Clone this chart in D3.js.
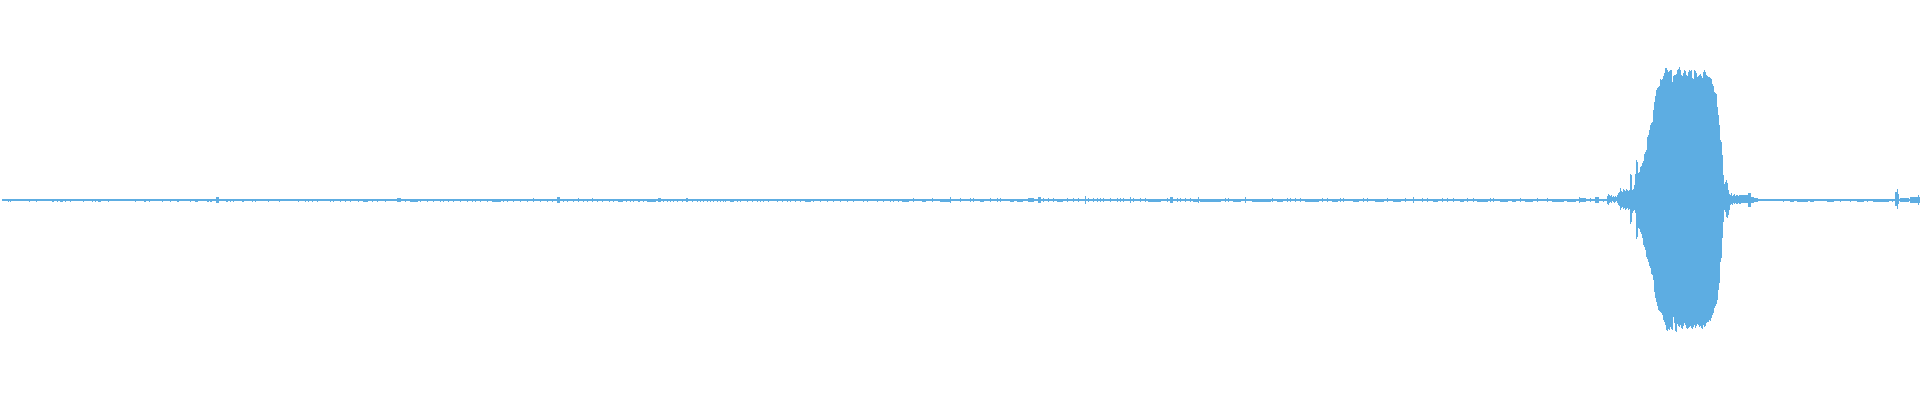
<!DOCTYPE html>
<html><head><meta charset="utf-8">
<script src="https://cdn.jsdelivr.net/npm/d3@7"></script>
<style>html,body{margin:0;padding:0;background:#fff;overflow:hidden}</style>
</head><body>
<svg id="chart" width="1920" height="400"></svg>
<script>
// ---- data (normalized amplitude, -1..1; one entry per display column) ----
const totalColumns = 1920;
const firstColumn = 2;
const baseLevel = 0.005;

// noise level table: [upper, lower] amplitude
const levelHi = [0.005, 0.005, 0.01, 0.015, 0.02];
const levelLo = [0.005, 0.01, 0.01, 0.015, 0.02];

// quiet-part ripples: [fromColumn, toColumn, level]
const noiseRanges = [
[8,8,1],[10,10,1],[29,29,1],[36,36,1],[52,53,1],[57,57,1],[60,62,1],[65,65,1],[70,70,1],[83,83,1],[92,92,1],[95,95,1],[98,100,1],[108,108,1],[135,135,1],[144,145,1],[149,149,1],[162,162,1],[170,170,1],[177,178,1],[190,190,1],[195,197,1],[207,208,1],[210,211,1],[216,218,3],[226,227,1],[230,230,1],[233,233,1],[242,243,1],[252,252,1],[255,255,1],[268,268,1],[279,279,1],[298,298,1],
[305,305,1],[308,308,1],[312,312,1],[317,317,1],[330,330,1],[333,333,1],[340,340,1],[345,345,1],[350,350,1],[358,358,1],[363,367,1],[372,372,1],[377,377,1],[385,385,1],[397,400,2],[405,405,1],[410,417,1],[420,420,1],[427,427,1],[433,433,1],[440,440,1],[443,443,1],[448,448,1],[453,453,1],[460,460,1],[467,467,1],[472,472,1],[475,475,1],[480,480,1],[487,487,1],[492,500,1],[503,503,1],[507,507,1],[513,513,1],[520,520,1],[527,527,1],[533,533,2],[540,540,1],[547,547,1],[552,552,1],[557,559,3],[563,563,1],[567,567,1],[573,573,1],[578,578,2],[583,583,1],[587,587,1],[592,592,2],[597,597,1],
[602,602,1],[609,609,1],[613,613,1],[618,622,1],[626,626,1],[630,630,1],[633,633,1],[638,639,1],[643,643,1],[647,655,1],[658,660,2],[663,663,1],[667,667,1],[670,670,1],[673,673,1],[677,677,1],[682,682,1],[686,687,2],[692,692,1],[697,697,1],[700,700,1],[703,703,1],[707,707,1],[710,710,1],[713,713,1],[717,717,1],[720,720,1],[723,723,1],[725,725,1],[730,733,1],[737,737,1],[740,740,1],[747,747,1],[752,752,1],[757,757,1],[760,760,1],[763,763,1],[768,768,1],[777,777,1],[782,782,1],[787,787,1],[790,790,1],[795,795,1],[800,800,1],[805,810,1],[813,813,1],[820,820,1],[827,827,1],[833,833,1],[840,840,1],[847,847,1],[853,853,1],[863,863,1],[867,867,1],[877,877,1],[883,883,1],[890,890,1],[893,893,1],[898,898,1],
[902,908,1],[913,913,2],[922,925,1],[932,932,2],[940,949,1],[950,950,3],[960,960,2],[970,970,2],[973,973,2],[980,983,1],[990,990,2],[997,997,2],[1000,1000,2],[1010,1013,1],[1017,1022,1],[1028,1033,2],[1038,1040,3],[1043,1043,2],[1048,1048,2],[1053,1053,2],[1057,1062,1],[1067,1067,2],[1073,1073,2],[1078,1078,2],[1085,1085,4],[1088,1088,2],[1093,1093,2],[1097,1097,2],[1100,1100,2],[1103,1103,2],[1110,1110,2],[1117,1117,2],[1120,1120,2],[1123,1123,2],[1130,1130,3],[1133,1133,2],[1140,1140,2],[1145,1145,2],[1148,1160,1],[1167,1167,2],[1170,1172,3],[1177,1177,2],[1180,1180,2],[1185,1185,2],[1190,1190,2],[1193,1197,1],[1198,1198,3],
[1200,1220,1],[1225,1225,2],[1228,1228,2],[1233,1240,1],[1245,1245,3],[1252,1270,1],[1272,1272,2],[1277,1282,1],[1287,1287,2],[1290,1290,2],[1295,1295,2],[1300,1300,2],[1305,1318,1],[1322,1322,2],[1327,1327,2],[1332,1337,1],[1340,1340,2],[1343,1343,2],[1353,1358,1],[1363,1363,2],[1367,1367,2],[1375,1383,1],[1387,1387,2],[1393,1400,1],[1405,1405,2],[1413,1413,3],[1422,1422,2],[1427,1427,2],[1433,1437,1],[1442,1442,2],[1447,1447,2],[1453,1453,2],[1460,1463,1],[1467,1467,2],[1473,1473,2],[1477,1487,1],[1490,1490,2],[1493,1493,2],[1500,1507,1],[1512,1515,1],[1520,1520,2],[1525,1532,1],[1537,1537,2],[1547,1547,2],[1552,1563,1],[1567,1575,1],[1579,1579,3],[1580,1585,2],[1590,1590,2],[1595,1598,3],[1603,1603,1],
[1783,1783,1],[1790,1793,1],[1797,1807,1],[1810,1813,1],[1827,1833,1],[1840,1840,1],[1850,1850,1],[1857,1863,1],[1867,1867,1],[1873,1887,1],[1888,1888,1],[1892,1892,1]
];

// explicit events after the burst: [from, to, upper, lower]
const eventRanges = [
[1741,1747,0.025,0.015],[1748,1750,0.035,0.035],[1751,1753,0.015,0.015],[1754,1757,0.01,0.01],
[1895,1896,0.04,0.03],[1897,1897,0.055,0.045],[1898,1898,0.03,0.02],[1900,1908,0.01,0.01],
[1910,1917,0.015,0.015],[1918,1918,0.025,0.025],[1919,1919,0.015,0.015]
];

// main burst, columns 1607..1740
const burstStart = 1607;
const burstHi = [
0.020,0.030,0.025,0.020,0.025,0.015,0.020,0.015,0.020,0.015,0.025,0.035,0.040,0.060,0.045,0.040,0.055,0.050,0.045,0.055,
0.050,0.045,0.050,0.130,0.125,0.050,0.055,0.075,0.130,0.200,0.190,0.135,0.140,0.165,0.170,0.185,0.195,0.230,0.240,0.250,
0.315,0.325,0.350,0.375,0.385,0.390,0.450,0.490,0.520,0.550,0.560,0.565,0.570,0.605,0.600,0.605,0.620,0.635,0.660,0.660,
0.650,0.640,0.645,0.650,0.650,0.590,0.620,0.625,0.625,0.630,0.650,0.655,0.665,0.650,0.625,0.620,0.635,0.650,0.645,0.625,
0.620,0.640,0.650,0.645,0.650,0.610,0.605,0.650,0.645,0.635,0.615,0.620,0.625,0.630,0.620,0.610,0.640,0.650,0.640,0.625,
0.620,0.615,0.615,0.610,0.605,0.580,0.570,0.540,0.535,0.530,0.465,0.425,0.375,0.300,0.290,0.225,0.125,0.080,0.090,0.100,
0.085,0.050,0.030,0.025,0.035,0.020,0.025,0.030,0.020,0.025,0.025,0.020,0.025,0.025
];
const burstLo = [
0.020,0.025,0.015,0.010,0.015,0.005,0.010,0.015,0.010,0.005,0.015,0.025,0.030,0.050,0.040,0.035,0.045,0.040,0.050,0.045,
0.040,0.050,0.045,0.120,0.110,0.065,0.055,0.050,0.065,0.195,0.185,0.140,0.145,0.160,0.170,0.190,0.225,0.235,0.250,0.285,
0.295,0.310,0.330,0.340,0.370,0.375,0.400,0.460,0.490,0.510,0.530,0.550,0.555,0.560,0.565,0.575,0.600,0.610,0.625,0.650,
0.655,0.645,0.650,0.635,0.645,0.650,0.585,0.615,0.655,0.660,0.620,0.630,0.635,0.625,0.640,0.645,0.630,0.615,0.625,0.640,
0.645,0.640,0.635,0.630,0.640,0.645,0.635,0.625,0.640,0.630,0.620,0.625,0.635,0.630,0.640,0.645,0.625,0.635,0.630,0.615,
0.610,0.610,0.600,0.605,0.590,0.575,0.565,0.540,0.530,0.520,0.500,0.450,0.415,0.310,0.290,0.190,0.110,0.050,0.060,0.085,
0.090,0.075,0.050,0.025,0.020,0.025,0.015,0.020,0.015,0.020,0.020,0.015,0.020,0.020
];

// ---- assemble per-column peaks ----
const peaks = [];
for (let i = firstColumn; i < totalColumns; i++) peaks.push({i, hi: baseLevel, lo: baseLevel});
const byCol = new Map(peaks.map(p => [p.i, p]));
noiseRanges.forEach(([a, b, l]) => {
  for (let c = a; c <= b; c++) { const p = byCol.get(c); if (p) { p.hi = Math.max(p.hi, levelHi[l]); p.lo = Math.max(p.lo, levelLo[l]); } }
});
eventRanges.forEach(([a, b, h, l]) => {
  for (let c = a; c <= b; c++) { const p = byCol.get(c); if (p) { p.hi = Math.max(p.hi, h); p.lo = Math.max(p.lo, l); } }
});
burstHi.forEach((h, k) => { const p = byCol.get(burstStart + k); if (p) { p.hi = h; p.lo = burstLo[k]; } });

// ---- draw ----
const svg = d3.select('#chart');
const x = d3.scaleLinear().domain([0, totalColumns]).range([0, 1920]);
const y = d3.scaleLinear().domain([-1, 1]).range([400, 0]);

svg.append('g')
  .attr('fill', '#5dade2')
  .attr('shape-rendering', 'crispEdges')
  .selectAll('rect')
  .data(peaks)
  .join('rect')
  .attr('x', d => x(d.i))
  .attr('width', d => x(d.i + 1) - x(d.i))
  .attr('y', d => Math.round(y(d.hi)))
  .attr('height', d => Math.round(y(-d.lo)) - Math.round(y(d.hi)));
</script>
</body></html>
